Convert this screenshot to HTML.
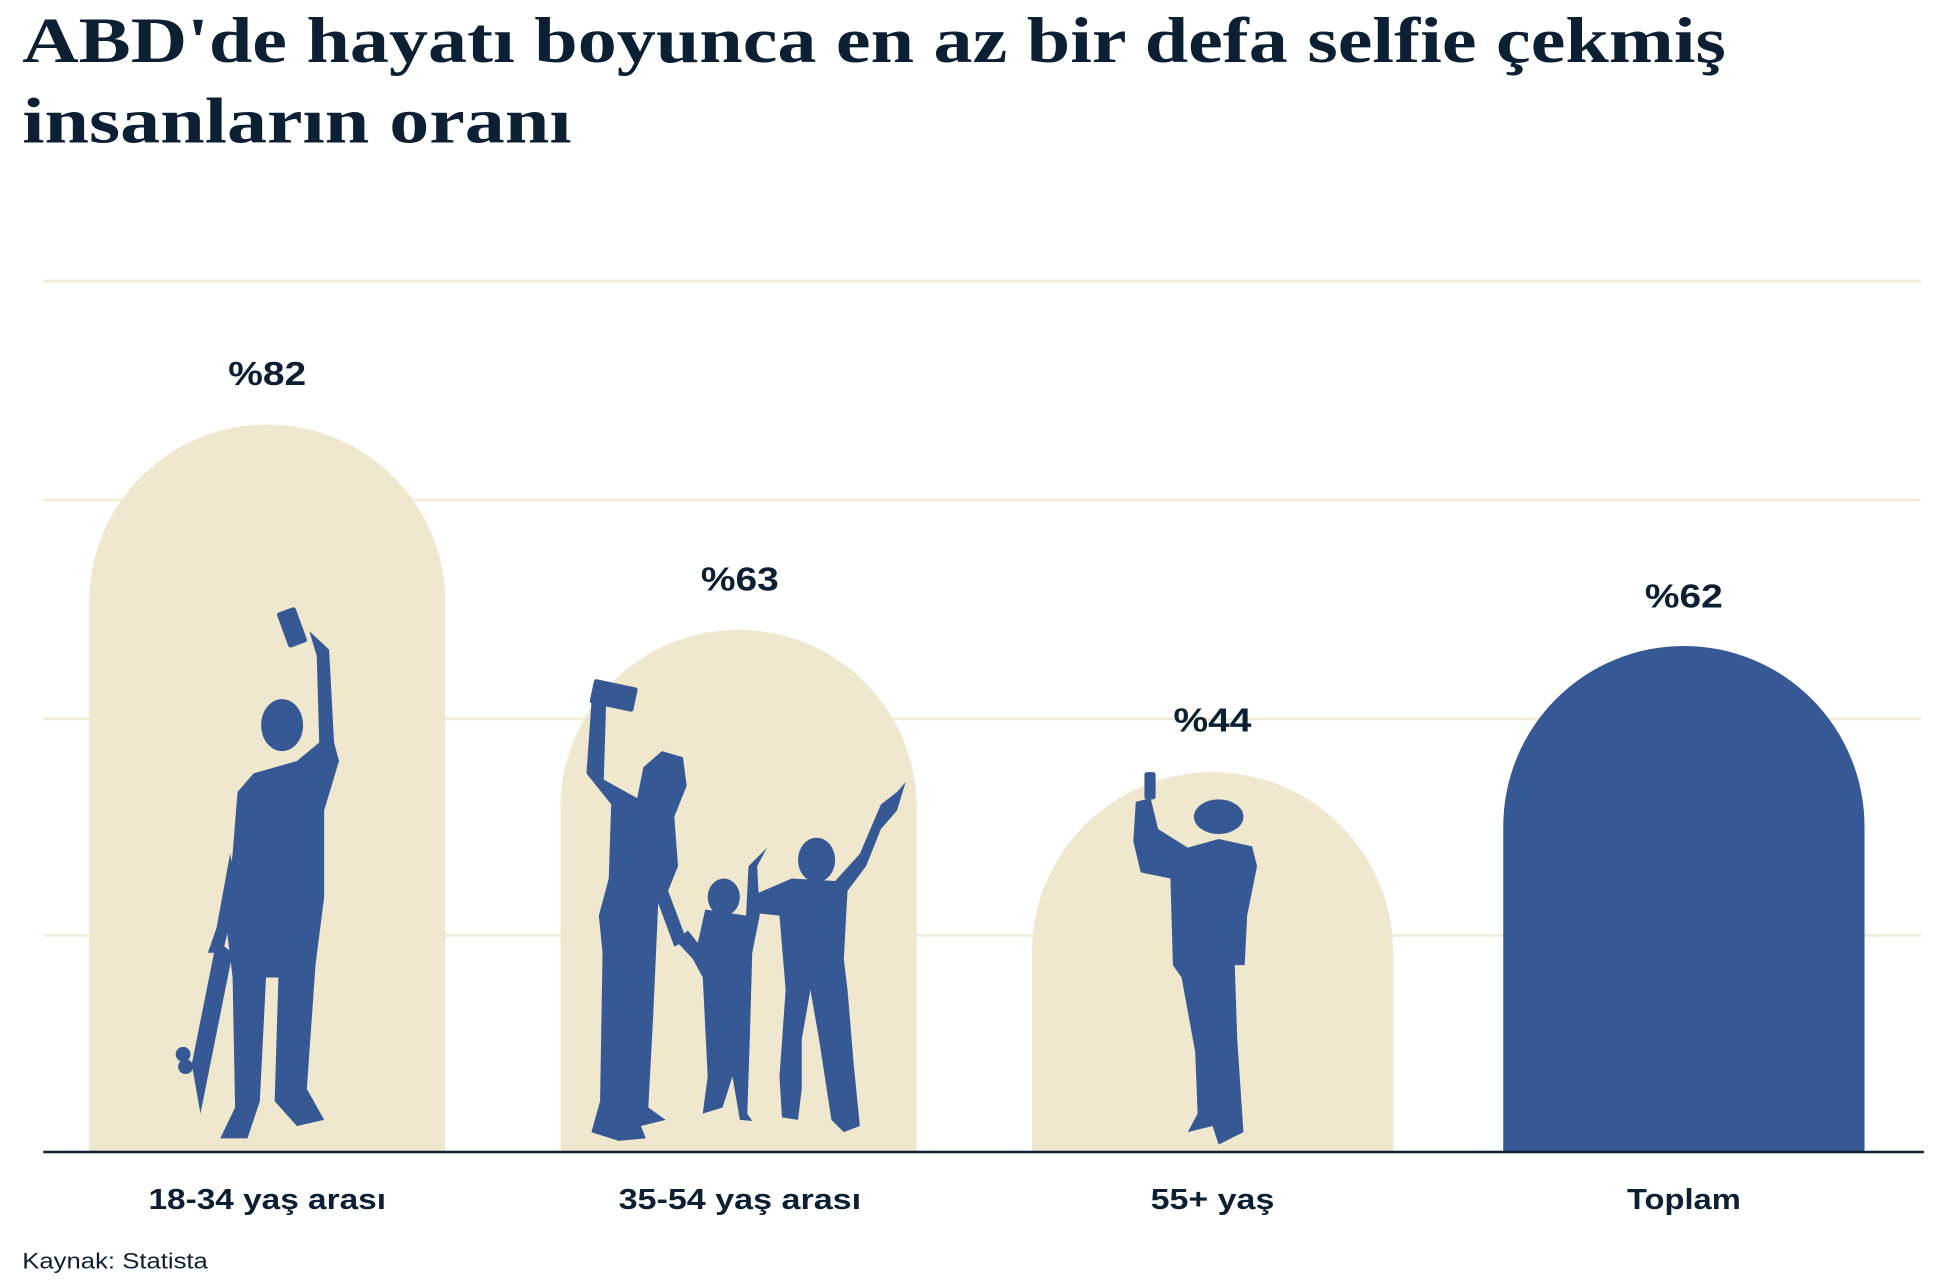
<!DOCTYPE html>
<html><head><meta charset="utf-8"><style>
html,body{margin:0;padding:0;background:#fff;width:1940px;height:1282px;overflow:hidden}
</style></head><body>
<svg width="1940" height="1282" viewBox="0 0 1568 1036" xmlns="http://www.w3.org/2000/svg">
<rect width="1568" height="1036" fill="#fff"/>
<g font-family="Liberation Serif, serif" font-weight="bold" fill="#0d1f33" font-size="52">
<text x="18" y="50" textLength="1377" lengthAdjust="spacingAndGlyphs">ABD'de hayatı boyunca en az bir defa selfie çekmiş</text>
<text x="18" y="115" textLength="444" lengthAdjust="spacingAndGlyphs">insanların oranı</text>
</g>
<g stroke="#f2ebd6" stroke-width="2">
<line x1="35" y1="227" x2="1553" y2="227"/><line x1="35" y1="404" x2="1553" y2="404"/>
<line x1="35" y1="581" x2="1553" y2="581"/><line x1="35" y1="756" x2="1553" y2="756"/>
</g>
<g fill="#efe8cf">
<path d="M72 931 V487 A144 144 0 0 1 360 487 V931 Z"/>
<path d="M453 931 V653 A144 144 0 0 1 741 653 V931 Z"/>
<path d="M834 931 V770 A146 146 0 0 1 1126 770 V931 Z"/>
</g>
<path d="M1215 931 V668 A146 146 0 0 1 1507 668 V931 Z" fill="#365894"/>
<g fill="#365894">
<ellipse cx="228" cy="586" rx="17" ry="21"/>
<rect x="228" y="492" width="16" height="30" rx="2" transform="rotate(-20 236 507)"/>
<path d="M250 510 L266 525 L270 600 L274 615 L262 655 L262 725 L255 780 L248 880 L262 905 L240 910 L222 890 L225 790 L215 790 L210 890 L200 920 L178 920 L190 895 L188 790 L182 740 L188 690 L192 640 L205 625 L240 615 L258 600 L256 530 Z"/>
<path d="M186 690 L175 750 L168 770 L180 770 L192 720 Z"/>
<path d="M175 760 L188 770 L170 860 L162 900 L155 860 Z"/>
<circle cx="148" cy="852" r="6"/><circle cx="150" cy="862" r="6"/>
<rect x="478" y="552" width="36" height="20" rx="2" transform="rotate(12 496 562)"/>
<path d="M478 568 L490 565 L488 630 L515 645 L520 620 L535 607 L552 612 L555 635 L545 660 L548 700 L540 720 L555 760 L545 765 L532 730 L528 820 L524 895 L538 905 L518 910 L522 920 L500 922 L478 915 L485 890 L487 770 L484 740 L492 710 L494 650 L474 625 Z"/>
<ellipse cx="585" cy="725" rx="13" ry="15"/>
<path d="M570 735 L603 740 L605 700 L620 685 L612 700 L614 740 L608 770 L606 840 L604 900 L608 906 L598 905 L592 870 L584 895 L568 900 L572 870 L568 790 L560 775 L546 760 L556 752 L564 762 Z"/>
<ellipse cx="660" cy="695" rx="15" ry="18"/>
<path d="M612 722 L640 710 L675 712 L695 690 L712 650 L725 640 L732 632 L725 655 L712 670 L700 700 L685 720 L682 775 L685 800 L690 860 L695 910 L682 915 L672 905 L662 840 L655 800 L648 840 L648 880 L645 905 L632 903 L630 870 L635 800 L630 740 L612 738 Z"/>
<rect x="925" y="624" width="9" height="22" rx="2"/>
<ellipse cx="985" cy="660" rx="20" ry="14"/>
<path d="M918 648 L930 645 L936 670 L960 685 L985 678 L1012 684 L1016 700 L1008 740 L1006 780 L998 780 L1000 840 L1004 900 L1005 915 L985 925 L980 910 L960 915 L968 900 L966 850 L955 790 L948 780 L946 710 L922 705 L916 680 Z"/>
</g>
<g font-family="Liberation Sans, sans-serif" font-weight="bold" fill="#0d1f33" font-size="27" text-anchor="middle">
<text x="216" y="311" textLength="63" lengthAdjust="spacingAndGlyphs">%82</text>
<text x="598" y="477" textLength="63" lengthAdjust="spacingAndGlyphs">%63</text>
<text x="980" y="591" textLength="63" lengthAdjust="spacingAndGlyphs">%44</text>
<text x="1361" y="491" textLength="63" lengthAdjust="spacingAndGlyphs">%62</text>
</g>
<line x1="35" y1="931" x2="1555" y2="931" stroke="#0d1f33" stroke-width="2"/>
<g font-family="Liberation Sans, sans-serif" font-weight="bold" fill="#0d1f33" font-size="23" text-anchor="middle">
<text x="216" y="977" textLength="192" lengthAdjust="spacingAndGlyphs">18-34 yaş arası</text>
<text x="598" y="977" textLength="196" lengthAdjust="spacingAndGlyphs">35-54 yaş arası</text>
<text x="980" y="977" textLength="100" lengthAdjust="spacingAndGlyphs">55+ yaş</text>
<text x="1361" y="977" textLength="92" lengthAdjust="spacingAndGlyphs">Toplam</text>
</g>
<text x="18" y="1025" font-family="Liberation Sans, sans-serif" font-size="18" fill="#0d1f33" textLength="150" lengthAdjust="spacingAndGlyphs">Kaynak: Statista</text>
</svg>
</body></html>
